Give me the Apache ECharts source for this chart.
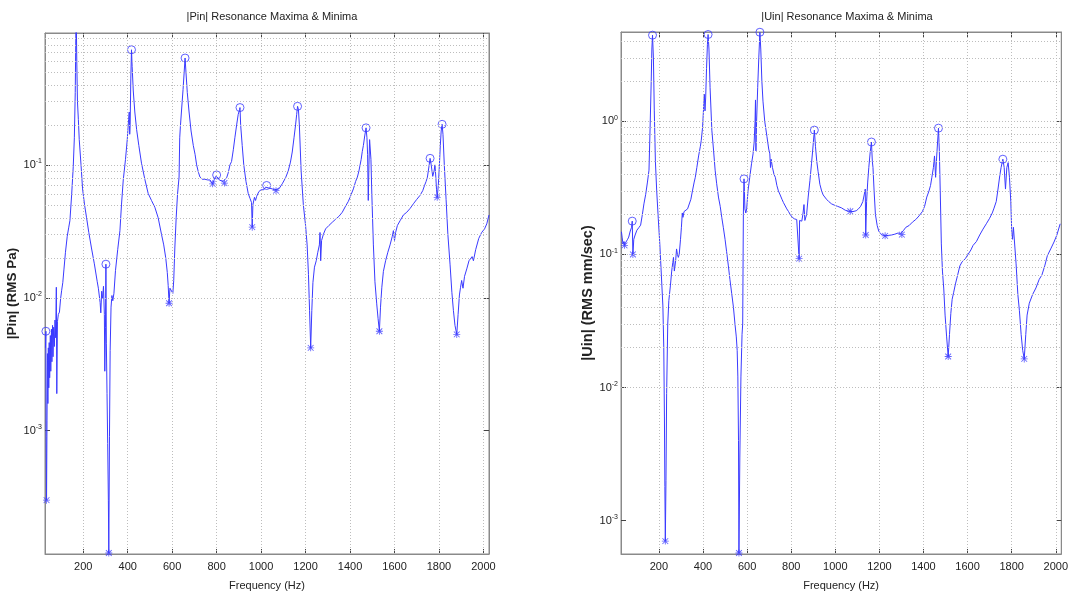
<!DOCTYPE html>
<html>
<head>
<meta charset="utf-8">
<title>Resonance Maxima & Minima</title>
<script src="https://cdn.jsdelivr.net/npm/echarts@6/dist/echarts.min.js"></script>
<style>
  html, body { margin: 0; padding: 0; background: #fff; }
  #chart { width: 1071px; height: 596px; }
</style>
</head>
<body>
<div id="chart"></div>
<script>
// Frequency axis ticks (Hz) and decade ticks for both log axes
const freqTicks = [200, 400, 600, 800, 1000, 1200, 1400, 1600, 1800, 2000];
const pinDecades = [0.001, 0.01, 0.1];
const uinDecades = [0.001, 0.01, 0.1, 1];

// |Pin| spectrum (RMS Pa)
const pinFreq = [30,32,33,35,37,39,41,43,45,47,49,52,54,57,59,62,64,67,70,73,76,79,81,84,88,93,98,103,108,113,120,128,135,140,148,155,160,164,168,171,174,178,182,190,197,206,215,225,237,250,263,268,272,276,279,283,287,291,295,297,300,302,304,307,310,313,315,318,321,325,329,333,338,345,355,365,372,380,390,398,404,407,409,411,414,417,420,425,432,440,450,462,477,492,507,522,537,552,562,571,578,582,586,590,597,603,607,612,618,624,631,634,637,640,645,649,654,658,662,668,676,685,695,703,710,718,725,735,747,760,770,777,782,790,796,800,806,812,820,828,835,845,852,860,867,875,882,890,897,903,905,908,915,922,932,942,950,957,960,963,970,975,980,990,1000,1012,1020,1025,1035,1050,1060,1067,1080,1095,1110,1122,1132,1140,1148,1155,1160,1164,1168,1172,1180,1190,1200,1207,1213,1218,1223,1228,1233,1240,1248,1255,1262,1265,1268,1272,1280,1290,1305,1320,1335,1350,1365,1380,1392,1400,1415,1425,1433,1440,1450,1455,1460,1466,1472,1476,1479,1482,1485,1488,1490,1494,1498,1505,1512,1520,1526,1532,1537,1543,1550,1560,1570,1580,1590,1595,1600,1605,1613,1625,1640,1655,1670,1685,1700,1715,1727,1735,1742,1748,1752,1756,1760,1765,1772,1778,1782,1786,1789,1792,1797,1802,1806,1810,1814,1818,1824,1832,1840,1850,1858,1865,1872,1880,1886,1892,1897,1902,1908,1915,1925,1935,1949,1955,1965,1979,1992,2005,2015,2025];
const pinMag = [0.0042,0.0056,0.0009,0.0003,0.0012,0.0038,0.0016,0.0042,0.0021,0.0046,0.0025,0.0052,0.0028,0.0058,0.0033,0.0062,0.0036,0.006,0.0043,0.0068,0.005,0.012,0.0019,0.0066,0.0075,0.0078,0.0098,0.0114,0.013,0.0162,0.022,0.029,0.034,0.038,0.06,0.097,0.16,0.35,1.6,0.6,0.3,0.22,0.155,0.1,0.066,0.05,0.04,0.031,0.0237,0.018,0.0132,0.0118,0.012,0.0092,0.0077,0.0112,0.0098,0.0122,0.0075,0.0028,0.006,0.0179,0.0045,0.0019,0.0008,0.0003,0.00012,0.0009,0.004,0.0085,0.0104,0.0095,0.0108,0.016,0.023,0.032,0.05,0.077,0.11,0.155,0.22,0.25,0.17,0.2,0.45,0.735,0.55,0.36,0.25,0.185,0.14,0.103,0.078,0.061,0.054,0.048,0.04,0.03,0.025,0.02,0.0155,0.0124,0.0091,0.0118,0.0117,0.0108,0.0135,0.0237,0.04,0.06,0.081,0.16,0.195,0.2,0.3,0.37,0.5,0.637,0.5,0.35,0.25,0.18,0.14,0.12,0.1,0.088,0.081,0.078,0.078,0.077,0.077,0.075,0.072,0.078,0.082,0.084,0.08,0.077,0.076,0.075,0.073,0.08,0.087,0.1,0.106,0.13,0.16,0.2,0.24,0.26,0.27,0.2,0.14,0.1,0.075,0.061,0.056,0.052,0.034,0.05,0.057,0.054,0.058,0.063,0.065,0.065,0.068,0.07,0.067,0.066,0.065,0.064,0.066,0.072,0.08,0.09,0.105,0.125,0.16,0.2,0.24,0.276,0.26,0.2,0.09,0.05,0.035,0.025,0.015,0.008,0.0042,0.008,0.013,0.017,0.019,0.022,0.025,0.031,0.019,0.027,0.03,0.033,0.035,0.037,0.039,0.041,0.044,0.049,0.053,0.057,0.066,0.075,0.081,0.09,0.11,0.126,0.14,0.165,0.19,0.16,0.12,0.054,0.1,0.155,0.16,0.11,0.06,0.025,0.0132,0.009,0.007,0.0056,0.0085,0.012,0.0158,0.019,0.022,0.025,0.029,0.032,0.027,0.031,0.035,0.038,0.042,0.044,0.047,0.051,0.055,0.059,0.064,0.07,0.075,0.081,0.09,0.1,0.112,0.1,0.082,0.09,0.1,0.08,0.065,0.057,0.07,0.1,0.14,0.18,0.202,0.17,0.1,0.055,0.03,0.0177,0.011,0.008,0.0062,0.0053,0.0075,0.0105,0.012,0.0135,0.0118,0.0145,0.0165,0.019,0.0204,0.019,0.023,0.028,0.031,0.033,0.036,0.042];
const pinMaxFreq = [32, 302, 417, 658, 800, 905, 1025, 1164, 1472, 1760, 1814];
const pinMaxMag = [0.0056, 0.0179, 0.735, 0.637, 0.084, 0.27, 0.07, 0.276, 0.19, 0.112, 0.202];
const pinMinFreq = [35, 315, 586, 782, 835, 960, 1067, 1223, 1532, 1792, 1880];
const pinMinMag = [0.0003, 0.00012, 0.0091, 0.072, 0.073, 0.034, 0.064, 0.0042, 0.0056, 0.057, 0.0053];

// |Uin| spectrum (RMS mm/sec)
const uinFreq = [30,33,37,41,44,48,53,58,63,70,76,79,82,86,92,100,110,117,125,132,140,148,155,160,165,168,171,175,179,184,190,197,204,211,218,222,225,227,229,232,235,240,245,252,258,263,266,270,276,280,284,288,292,298,302,306,309,314,322,330,338,345,352,360,365,372,380,388,392,398,403,406,409,412,416,420,423,427,432,440,448,455,462,470,478,485,492,500,507,515,522,530,538,545,551,555,558,561,563,567,572,577,580,583,586,590,594,598,604,612,620,627,632,636,638,640,643,648,653,658,662,667,672,680,690,698,703,706,709,715,722,728,735,742,750,758,765,773,780,788,795,805,815,825,832,836,838,842,848,853,858,862,866,870,877,885,892,898,905,910,916,922,930,938,945,953,960,970,983,995,1010,1028,1045,1058,1068,1080,1095,1105,1115,1125,1131,1136,1138,1142,1147,1152,1158,1164,1168,1171,1176,1182,1190,1197,1205,1215,1226,1240,1255,1270,1285,1295,1302,1310,1320,1335,1350,1365,1380,1395,1405,1415,1425,1432,1438,1445,1450,1455,1460,1464,1468,1472,1476,1481,1486,1492,1498,1505,1512,1518,1524,1530,1537,1545,1555,1565,1575,1590,1602,1615,1625,1640,1655,1670,1685,1700,1712,1720,1730,1738,1746,1752,1760,1766,1772,1778,1784,1790,1796,1800,1804,1808,1812,1820,1828,1835,1843,1850,1857,1864,1870,1880,1895,1910,1925,1937,1950,1962,1977,1992,2005,2020];
const uinMag = [0.148,0.135,0.12,0.125,0.117,0.122,0.125,0.13,0.135,0.15,0.16,0.178,0.1,0.13,0.14,0.152,0.16,0.166,0.2,0.24,0.283,0.35,0.43,0.9,2.0,3.5,4.45,3.0,1.2,0.5,0.3,0.187,0.12,0.07,0.041,0.02,0.006,0.0018,0.0007,0.002,0.009,0.03,0.045,0.058,0.075,0.087,0.095,0.075,0.09,0.11,0.1,0.095,0.1,0.13,0.16,0.205,0.19,0.21,0.215,0.22,0.22,0.26,0.3,0.35,0.38,0.45,0.55,0.65,0.72,0.9,1.3,1.6,1.2,1.5,2.5,3.8,4.5,3.5,1.8,0.86,0.6,0.43,0.34,0.27,0.23,0.19,0.16,0.13,0.105,0.082,0.065,0.051,0.04,0.03,0.024,0.019,0.012,0.004,0.00057,0.003,0.012,0.025,0.03,0.2,0.37,0.22,0.205,0.22,0.3,0.38,0.48,0.57,0.7,1.0,1.45,0.6,1.0,1.8,3.0,4.68,3.5,2.0,1.42,1.0,0.77,0.62,0.57,0.45,0.52,0.45,0.4,0.38,0.33,0.3,0.28,0.26,0.245,0.237,0.22,0.21,0.2,0.19,0.185,0.183,0.18,0.093,0.18,0.175,0.178,0.2,0.237,0.18,0.175,0.2,0.27,0.36,0.48,0.62,0.86,0.65,0.5,0.42,0.337,0.3,0.28,0.275,0.26,0.25,0.24,0.235,0.23,0.224,0.215,0.212,0.211,0.21,0.213,0.22,0.23,0.25,0.28,0.31,0.14,0.25,0.35,0.45,0.58,0.7,0.5,0.45,0.3,0.2,0.165,0.15,0.143,0.14,0.138,0.139,0.14,0.142,0.145,0.142,0.141,0.152,0.16,0.165,0.175,0.183,0.195,0.21,0.23,0.27,0.3,0.33,0.38,0.45,0.55,0.38,0.55,0.7,0.89,0.6,0.3,0.12,0.075,0.055,0.035,0.024,0.0171,0.025,0.036,0.046,0.052,0.06,0.07,0.082,0.088,0.093,0.1,0.108,0.117,0.125,0.14,0.155,0.17,0.187,0.205,0.223,0.25,0.31,0.39,0.45,0.52,0.45,0.31,0.45,0.49,0.38,0.25,0.155,0.13,0.16,0.155,0.085,0.05,0.038,0.025,0.019,0.0164,0.025,0.035,0.043,0.05,0.056,0.065,0.07,0.082,0.098,0.11,0.124,0.14,0.17];
const uinMaxFreq = [79, 171, 423, 586, 658, 905, 1164, 1468, 1760];
const uinMaxMag = [0.178, 4.45, 4.5, 0.37, 4.68, 0.86, 0.7, 0.89, 0.52];
const uinMinFreq = [44, 82, 229, 563, 836, 1068, 1138, 1226, 1302, 1512, 1857];
const uinMinMag = [0.117, 0.1, 0.0007, 0.00057, 0.093, 0.211, 0.14, 0.138, 0.141, 0.0171, 0.0164];

const zip = (xs, ys) => xs.map((x, i) => [x, ys[i]]);

const FONT = 'Liberation Sans, Arial, Helvetica, sans-serif';
const LINE_BLUE = '#3a3aff';
const GRID_GRAY = '#bdbdbd';
const FRAME = '#8a8a8a';

// asterisk glyph used for the minima markers
const STAR = 'path://M0,4.4H10V5.6H0Z M4.4,0H5.6V10H4.4Z M1.3,0.45L9.55,8.7L8.7,9.55L0.45,1.3Z M8.7,0.45L9.55,1.3L1.3,9.55L0.45,8.7Z';

function decadeLines(min, max) {
  const out = [];
  for (let e = -5; e <= 1; e++) {
    for (let k = 1; k <= 9; k++) {
      const v = k * Math.pow(10, e);
      if (v > min * 1.001 && v < max * 0.999) out.push(v);
    }
  }
  return out;
}

function expLabel(v) {
  const e = Math.round(Math.log10(v));
  return '{b|10}{e|' + e + '}';
}

const xRange = [28, 2025];
const pinRange = [1.18e-4, 0.983];
const uinRange = [5.6e-4, 4.7];

const panels = [
  { title: '|Pin| Resonance Maxima & Minima', yName: '|Pin| (RMS Pa)', grid: { left: 45, top: 33, width: 444, height: 521 },
    range: pinRange, decades: pinDecades, freq: pinFreq, mag: pinMag,
    maxF: pinMaxFreq, maxM: pinMaxMag, minF: pinMinFreq, minM: pinMinMag, nameGap: 20, nameSize: 13.5 },
  { title: '|Uin| Resonance Maxima & Minima', yName: '|Uin| (RMS mm/sec)', grid: { left: 621, top: 32, width: 442, height: 522 },
    range: uinRange, decades: uinDecades, freq: uinFreq, mag: uinMag,
    maxF: uinMaxFreq, maxM: uinMaxMag, minF: uinMinFreq, minM: uinMinMag, nameGap: 21, nameSize: 14.5 }
];

const option = {
  animation: false,
  backgroundColor: '#ffffff',
  textStyle: { fontFamily: FONT },
  title: [], grid: [], xAxis: [], yAxis: [], series: []
};

panels.forEach((p, i) => {
  option.title.push({
    text: p.title, left: p.grid.left + p.grid.width / 2, top: 6, textAlign: 'center',
    textStyle: { fontFamily: FONT, fontSize: 11, fontWeight: 'normal', color: '#222' }
  });
  option.grid.push(Object.assign({ show: true, borderColor: FRAME, borderWidth: 1, backgroundColor: '#fff' }, p.grid));

  // bottom frequency axis with labels, top one carries only the mirrored ticks
  option.xAxis.push({
    type: 'value', gridIndex: i, min: xRange[0], max: xRange[1], position: 'bottom',
    name: 'Frequency (Hz)', nameLocation: 'middle', nameGap: 26,
    nameTextStyle: { fontFamily: FONT, fontSize: 11, color: '#222' },
    axisLine: { show: true, lineStyle: { color: FRAME } },
    axisTick: { show: true, inside: true, length: 5, customValues: freqTicks, lineStyle: { color: '#444' } },
    axisLabel: { customValues: freqTicks, margin: 7, fontFamily: FONT, fontSize: 11, color: '#222',
                 formatter: v => String(v) },
    splitLine: { show: false }
  });
  option.xAxis.push({
    type: 'value', gridIndex: i, min: xRange[0], max: xRange[1], position: 'top',
    axisLine: { show: true, lineStyle: { color: FRAME } },
    axisTick: { show: true, inside: true, length: 5, customValues: freqTicks, lineStyle: { color: '#444' } },
    axisLabel: { show: false }, splitLine: { show: false }
  });

  const richLabel = {
    b: { fontFamily: FONT, fontSize: 11, color: '#222', lineHeight: 14 },
    e: { fontFamily: FONT, fontSize: 7, color: '#222', lineHeight: 14, verticalAlign: 'top', padding: [0, 0, 6, 0] }
  };
  option.yAxis.push({
    type: 'log', logBase: 10, gridIndex: i, min: p.range[0], max: p.range[1], position: 'left',
    name: p.yName, nameLocation: 'middle', nameGap: p.nameGap,
    nameTextStyle: { fontFamily: FONT, fontSize: p.nameSize, fontWeight: 'bold', color: '#222' },
    axisLine: { show: true, lineStyle: { color: FRAME } },
    axisTick: { show: true, inside: true, length: 5, customValues: p.decades, lineStyle: { color: '#444' } },
    axisLabel: { customValues: p.decades, margin: 3, formatter: expLabel, rich: richLabel },
    splitLine: { show: false }
  });
  option.yAxis.push({
    type: 'log', logBase: 10, gridIndex: i, min: p.range[0], max: p.range[1], position: 'right',
    axisLine: { show: true, lineStyle: { color: FRAME } },
    axisTick: { show: true, inside: true, length: 5, customValues: p.decades, lineStyle: { color: '#444' } },
    axisLabel: { show: false }, splitLine: { show: false }
  });

  const xi = i * 2, yi = i * 2;
  // dotted grid: frequency ticks plus every log decade subdivision
  option.series.push({
    type: 'scatter', xAxisIndex: xi, yAxisIndex: yi, data: [], z: 1, silent: true,
    markLine: {
      silent: true, symbol: ['none', 'none'], label: { show: false }, animation: false,
      lineStyle: { color: GRID_GRAY, width: 1, type: [1, 2] },
      emphasis: { disabled: true },
      data: freqTicks.map(f => ({ xAxis: f })).concat(decadeLines(p.range[0], p.range[1]).map(v => ({ yAxis: v })))
    }
  });
  option.series.push({
    type: 'line', xAxisIndex: xi, yAxisIndex: yi, z: 3, data: zip(p.freq, p.mag),
    showSymbol: false, symbol: 'none', clip: true,
    lineStyle: { color: LINE_BLUE, width: 1 }, silent: true
  });
  option.series.push({
    type: 'scatter', xAxisIndex: xi, yAxisIndex: yi, z: 4, data: zip(p.maxF, p.maxM),
    symbol: 'circle', symbolSize: 8, silent: true,
    itemStyle: { color: 'rgba(0,0,0,0)', borderColor: LINE_BLUE, borderWidth: 1 }
  });
  option.series.push({
    type: 'scatter', xAxisIndex: xi, yAxisIndex: yi, z: 4, data: zip(p.minF, p.minM),
    symbol: STAR, symbolSize: 7, silent: true,
    itemStyle: { color: LINE_BLUE }
  });
});

const chart = echarts.init(document.getElementById('chart'), null, { renderer: 'canvas' });
chart.setOption(option);
</script>
</body>
</html>
